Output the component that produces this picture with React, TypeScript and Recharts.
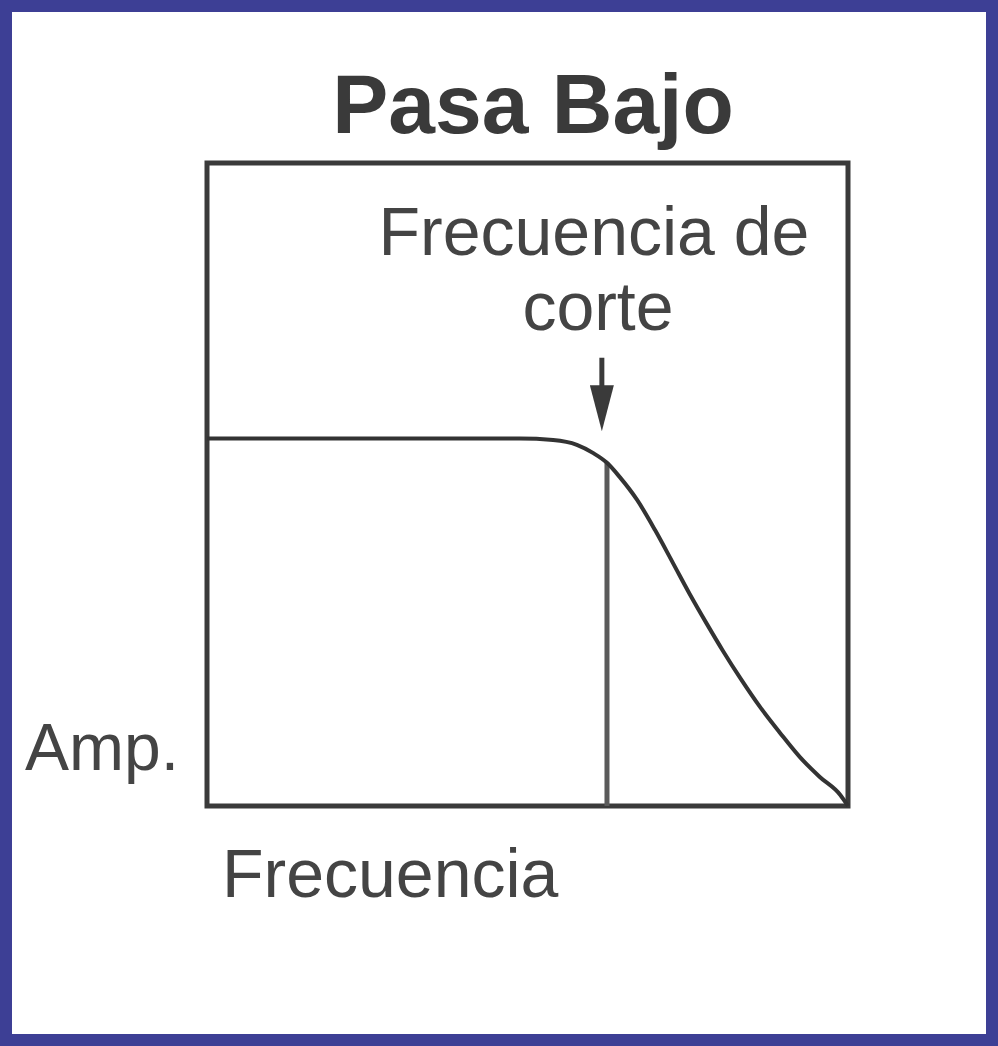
import React from "react";
import {
  LineChart,
  Line,
  XAxis,
  YAxis,
  ReferenceArea,
  ReferenceLine,
} from "recharts";

// frequency (0..10) vs amplitude (flat band = 1)
const freq = [0, 2.5, 4.88, 5.4, 5.77, 6.02, 6.24, 6.44, 6.71, 6.99, 7.27, 7.53, 7.8, 8.05, 8.32, 8.63, 8.94, 9.25, 9.56, 9.88, 10];
const amp = [1, 1, 1, 0.996, 0.983, 0.961, 0.934, 0.895, 0.833, 0.751, 0.661, 0.577, 0.495, 0.422, 0.348, 0.269, 0.199, 0.133, 0.079, 0.03, 0];

const cutoff = 6.24;
const cutoffAmp = 0.934;
const arrowX = 6.16;
const arrowFrom = 1.22;
const arrowTo = 1.02;

const title = "Pasa Bajo";
const cutoffLabel = ["Frecuencia de", "corte"];
const yLabel = "Amp.";
const xLabel = "Frecuencia";

const data = freq.map((f, i) => ({ f, amp: amp[i] }));

const font = "'Liberation Sans', Arial, sans-serif";
const ink = "#3a3a3a";

const Arrow = (props: any) => {
  const { x1, y1, x2, y2 } = props;
  const head = 46;
  const half = 12;
  return (
    <g>
      <line x1={x1} y1={y1} x2={x2} y2={y2 - head + 4} stroke={ink} strokeWidth={5} />
      <polygon
        points={`${x2 - half},${y2 - head} ${x2 + half},${y2 - head} ${x2},${y2}`}
        fill={ink}
      />
    </g>
  );
};

const App = () => {
  return (
    <div
      style={{
        position: "absolute",
        left: 0,
        top: 0,
        width: 998,
        height: 1046,
        background: "#fff",
      }}
    >
      <LineChart
        width={998}
        height={1046}
        data={data}
        margin={{ top: 163, right: 150, bottom: 240, left: 207 }}
      >
        <XAxis type="number" dataKey="f" domain={[0, 10]} hide />
        <YAxis type="number" domain={[0, 1.75]} hide />
        <ReferenceArea
          x1={0}
          x2={10}
          y1={0}
          y2={1.75}
          fill="none"
          stroke={ink}
          strokeWidth={5}
          ifOverflow="visible"
        />
        <ReferenceLine
          segment={[
            { x: cutoff, y: 0 },
            { x: cutoff, y: cutoffAmp },
          ]}
          stroke="#5a5a5a"
          strokeWidth={5}
        />
        <ReferenceLine
          segment={[
            { x: arrowX, y: arrowFrom },
            { x: arrowX, y: arrowTo },
          ]}
          shape={Arrow}
        />
        <Line
          type="monotone"
          dataKey="amp"
          stroke="#333"
          strokeWidth={4}
          dot={false}
          isAnimationActive={false}
        />
      </LineChart>
      <svg
        width={998}
        height={1046}
        style={{ position: "absolute", left: 0, top: 0, pointerEvents: "none" }}
      >
        <text x={533} y={133} textAnchor="middle" fontFamily={font} fontWeight="bold" fontSize={84} fill={ink}>
          {title}
        </text>
        <text x={594} y={255} textAnchor="middle" fontFamily={font} fontSize={68} fill="#444">
          {cutoffLabel[0]}
        </text>
        <text x={598} y={330} textAnchor="middle" fontFamily={font} fontSize={68} fill="#444">
          {cutoffLabel[1]}
        </text>
        <text x={25} y={770} fontFamily={font} fontSize={66} fill="#444">
          {yLabel}
        </text>
        <text x={222} y={897} fontFamily={font} fontSize={68} fill="#444">
          {xLabel}
        </text>
      </svg>
      <div
        style={{
          position: "absolute",
          left: 0,
          top: 0,
          width: 998,
          height: 1046,
          boxSizing: "border-box",
          border: "12px solid #3d3f95",
          pointerEvents: "none",
        }}
      />
    </div>
  );
};

export default App;
